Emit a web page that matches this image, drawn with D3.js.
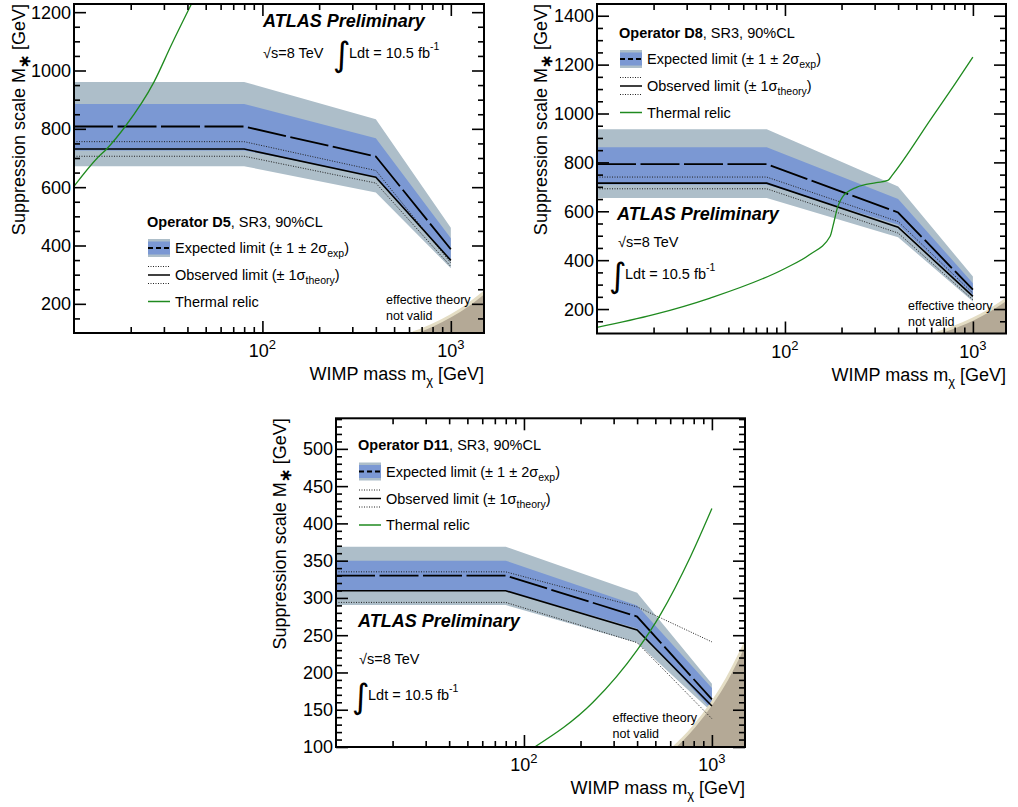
<!DOCTYPE html>
<html><head><meta charset="utf-8">
<script src="https://cdn.jsdelivr.net/npm/d3@7"></script>
<style>
body{margin:0;background:#fff;}
svg{display:block;font-family:"Liberation Sans",Arial,Helvetica,sans-serif;}
</style></head><body>
<svg id="chart" width="1018" height="807"></svg>
<script>
// ================= DATA =================
const massGrid = [10, 80, 400, 1000];
const xMajorTicks = [100, 1000];
const xTickBase = ["10", "10"];
const xTickExp = ["2", "3"];
const xMinorTicks = [20,30,40,50,60,70,80,90,200,300,400,500,600,700,800,900];

// Operator D5
const d5Expected  = [808, 808, 705, 387];
const d5Exp1Up    = [885, 885, 768, 425];
const d5Exp1Down  = [726, 726, 637, 352];
const d5Exp2Up    = [961, 961, 833, 461];
const d5Exp2Down  = [672, 672, 582, 322];
const d5Observed  = [731, 731, 634, 349];
const d5ObsUp     = [756, 756, 657, 340];
const d5ObsDown   = [706, 706, 614, 328];
const d5RelicMass  = [10, 13.3, 14.9, 18.7, 26.6, 33, 42];
const d5RelicScale = [603, 700, 731, 808, 961, 1090, 1228];
const d5YMajor = [200, 400, 600, 800, 1000, 1200];
const d5YLabels = ["200", "400", "600", "800", "1000", "1200"];

// Operator D8
const d8Expected  = [793, 793, 595, 279];
const d8Exp1Up    = [862, 862, 650, 306];
const d8Exp1Down  = [710, 710, 545, 256];
const d8Exp2Up    = [936, 936, 701, 333];
const d8Exp2Down  = [654, 654, 494, 231];
const d8Observed  = [715, 715, 535, 252];
const d8ObsUp     = [740, 740, 558, 265];
const d8ObsDown   = [692, 692, 511, 238];
const d8RelicMass  = [10, 20, 40, 100, 135, 174, 180, 191, 203, 240, 306, 353, 370, 600, 800, 1000];
const d8RelicScale = [125, 177, 245, 366, 422, 498, 539, 619, 660, 698, 717, 726, 745, 979, 1119, 1231];
const d8YMajor = [200, 400, 600, 800, 1000, 1200, 1400];
const d8YLabels = ["200", "400", "600", "800", "1000", "1200", "1400"];

// Operator D11
const d11Expected = [330, 330, 275, 164];
const d11Exp1Up   = [350, 350, 290, 179];
const d11Exp1Down = [310, 310, 259, 150];
const d11Exp2Up   = [368.6, 368.6, 307, 185];
const d11Exp2Down = [290.4, 290.4, 240, 147];
const d11Observed = [309.6, 309.6, 257, 155];
const d11ObsUp    = [335, 335, 288, 241];
const d11ObsDown  = [294, 294, 240, 138];
const d11RelicMass  = [114, 233, 400, 533, 771, 1000];
const d11RelicScale = [100, 160, 230, 278, 356, 420];
const d11YMajor = [100, 150, 200, 250, 300, 350, 400, 450, 500];
const d11YLabels = ["100","150","200","250","300","350","400","450","500"];

// effective theory not valid boundary
const invalidMass  = [630, 700, 800, 1000, 1200, 1500];
const invalidScale = [100, 111, 127, 159, 191, 239];

// ================= STYLE =================
const outerCol = "#adbec9";
const innerCol = "#7b98d3";
const relicCol = "#1f8a1f";
const regionCol = "#b4a996";
const regionEdge = "#e4ddc4";

const panels = [
  { name: "D5", l: 74, r: 484, t: 4, b: 333, yDomain: [100, 1228], yMajor: d5YMajor, yLabels: d5YLabels, yMinorStep: 50,
    exp: d5Expected, e1u: d5Exp1Up, e1d: d5Exp1Down, e2u: d5Exp2Up, e2d: d5Exp2Down,
    obs: d5Observed, ou: d5ObsUp, od: d5ObsDown, rm: d5RelicMass, rs: d5RelicScale,
    legend: { x: 147, y: 226.5 }, atlas: { x: 263, y: 26.5 }, energy: { x: 263, y: 57.5 }, lumi: { x: 335, y: 57.5 },
    eff: { x: 386, y: 303.5 }, yTitleX: 25 },
  { name: "D8", l: 597, r: 1006, t: 4, b: 333.5, yDomain: [100, 1448], yMajor: d8YMajor, yLabels: d8YLabels, yMinorStep: 50,
    exp: d8Expected, e1u: d8Exp1Up, e1d: d8Exp1Down, e2u: d8Exp2Up, e2d: d8Exp2Down,
    obs: d8Observed, ou: d8ObsUp, od: d8ObsDown, rm: d8RelicMass, rs: d8RelicScale,
    legend: { x: 619, y: 37.5 }, atlas: { x: 617, y: 220 }, energy: { x: 618, y: 246.5 }, lumi: { x: 611, y: 278.5 },
    eff: { x: 908, y: 310 }, yTitleX: 547 },
  { name: "D11", l: 336, r: 745, t: 418.3, b: 747, yDomain: [100, 541], yMajor: d11YMajor, yLabels: d11YLabels, yMinorStep: 10,
    exp: d11Expected, e1u: d11Exp1Up, e1d: d11Exp1Down, e2u: d11Exp2Up, e2d: d11Exp2Down,
    obs: d11Observed, ou: d11ObsUp, od: d11ObsDown, rm: d11RelicMass, rs: d11RelicScale,
    legend: { x: 358, y: 450 }, atlas: { x: 358, y: 627 }, energy: { x: 359, y: 663.5 }, lumi: { x: 354, y: 700 },
    eff: { x: 612.5, y: 721.5 }, yTitleX: 286 }
];

const svg = d3.select("#chart");
const defs = svg.append("defs");

function drawPanel(p) {
  const x = d3.scaleLog().domain([10, 1500]).range([p.l, p.r]);
  const y = d3.scaleLinear().domain(p.yDomain).range([p.b, p.t]);
  const g = svg.append("g");

  defs.append("clipPath").attr("id", "clip" + p.name)
    .append("rect").attr("x", p.l).attr("y", p.t).attr("width", p.r - p.l).attr("height", p.b - p.t);
  const plot = g.append("g").attr("clip-path", `url(#clip${p.name})`);

  const band = (lo, hi) => d3.area()
    .x((d, i) => x(massGrid[i])).y0((d, i) => y(lo[i])).y1((d, i) => y(hi[i]))(massGrid);
  const line = (vals) => d3.line().x((d, i) => x(massGrid[i])).y((d, i) => y(vals[i]))(massGrid);

  plot.append("path").attr("d", band(p.e2d, p.e2u)).attr("fill", outerCol);
  plot.append("path").attr("d", band(p.e1d, p.e1u)).attr("fill", innerCol);

  // effective theory not valid region
  const regionArea = d3.area().curve(d3.curveMonotoneX)
    .x((d, i) => x(invalidMass[i])).y0(y(p.yDomain[0]) + 5).y1((d, i) => y(invalidScale[i]));
  plot.append("path").attr("d", regionArea(invalidMass)).attr("fill", regionCol);
  const regionLine = d3.line().curve(d3.curveMonotoneX)
    .x((d, i) => x(invalidMass[i])).y((d, i) => y(invalidScale[i]));
  plot.append("path").attr("d", regionLine(invalidMass)).attr("fill", "none")
    .attr("stroke", regionEdge).attr("stroke-width", 3);

  plot.append("path").attr("d", line(p.ou)).attr("fill", "none").attr("stroke", "#222").attr("stroke-width", 1).attr("stroke-dasharray", "1,1.5");
  plot.append("path").attr("d", line(p.od)).attr("fill", "none").attr("stroke", "#222").attr("stroke-width", 1).attr("stroke-dasharray", "1,1.5");
  plot.append("path").attr("d", line(p.obs)).attr("fill", "none").attr("stroke", "#000").attr("stroke-width", 1.6);
  plot.append("path").attr("d", line(p.exp)).attr("fill", "none").attr("stroke", "#000").attr("stroke-width", 1.8).attr("stroke-dasharray", "39,4.5");

  const relic = d3.line().curve(d3.curveMonotoneX)
    .x((d, i) => x(p.rm[i])).y((d, i) => y(p.rs[i]));
  plot.append("path").attr("d", relic(p.rm)).attr("fill", "none").attr("stroke", relicCol).attr("stroke-width", 1.3);

  // axes ticks (inner, ROOT style)
  const yMinor = d3.range(p.yDomain[0], p.yDomain[1], p.yMinorStep).filter(v => !p.yMajor.includes(v) && v > p.yDomain[0]);
  const tickStyle = sel => { sel.select(".domain").remove(); sel.selectAll("line").attr("stroke", "#000").attr("stroke-width", 1.6); sel.selectAll("text").remove(); };
  g.append("g").attr("transform", `translate(${p.l},0)`).call(d3.axisLeft(y).tickValues(p.yMajor).tickSize(-12).tickFormat("")).call(tickStyle);
  g.append("g").attr("transform", `translate(${p.l},0)`).call(d3.axisLeft(y).tickValues(yMinor).tickSize(-6).tickFormat("")).call(tickStyle);
  g.append("g").attr("transform", `translate(${p.r},0)`).call(d3.axisRight(y).tickValues(p.yMajor).tickSize(-12).tickFormat("")).call(tickStyle);
  g.append("g").attr("transform", `translate(${p.r},0)`).call(d3.axisRight(y).tickValues(yMinor).tickSize(-6).tickFormat("")).call(tickStyle);
  g.append("g").attr("transform", `translate(0,${p.b})`).call(d3.axisBottom(x).tickValues(xMajorTicks).tickSize(-12).tickFormat("")).call(tickStyle);
  g.append("g").attr("transform", `translate(0,${p.b})`).call(d3.axisBottom(x).tickValues(xMinorTicks).tickSize(-6).tickFormat("")).call(tickStyle);
  g.append("g").attr("transform", `translate(0,${p.t})`).call(d3.axisTop(x).tickValues(xMajorTicks).tickSize(-12).tickFormat("")).call(tickStyle);
  g.append("g").attr("transform", `translate(0,${p.t})`).call(d3.axisTop(x).tickValues(xMinorTicks).tickSize(-6).tickFormat("")).call(tickStyle);

  g.append("rect").attr("x", p.l).attr("y", p.t).attr("width", p.r - p.l).attr("height", p.b - p.t)
    .attr("fill", "none").attr("stroke", "#000").attr("stroke-width", 2);

  // tick labels
  p.yMajor.forEach((v, i) => {
    g.append("text").attr("x", p.l - 3).attr("y", y(v)).attr("dy", "0.36em").attr("text-anchor", "end")
      .attr("font-size", 18).text(p.yLabels[i]);
  });
  xMajorTicks.forEach((v, i) => {
    const t = g.append("text").attr("x", x(v)).attr("y", p.b + 24).attr("text-anchor", "middle").attr("font-size", 18);
    t.append("tspan").text(xTickBase[i]);
    t.append("tspan").attr("dy", -8).attr("font-size", 13).text(xTickExp[i]);
  });

  // axis titles
  const xt = g.append("text").attr("x", p.r).attr("y", p.b + 47).attr("text-anchor", "end").attr("font-size", 18);
  xt.append("tspan").text("WIMP mass m");
  xt.append("tspan").attr("dy", 5).attr("font-size", 13).text("χ");
  xt.append("tspan").attr("dy", -5).text(" [GeV]");

  const yt = g.append("text").attr("transform", `translate(${p.yTitleX},${p.t}) rotate(-90)`)
    .attr("text-anchor", "end").attr("font-size", 18);
  yt.append("tspan").text("Suppression scale M");
  yt.append("tspan").attr("dy", 5).attr("font-size", 16).attr("font-weight", "bold").text("∗");
  yt.append("tspan").attr("dy", -5).text(" [GeV]");

  // legend
  const L = p.legend;
  const lt = g.append("text").attr("x", L.x).attr("y", L.y).attr("font-size", 14.5);
  lt.append("tspan").attr("font-weight", "bold").text("Operator " + p.name);
  lt.append("tspan").text(", SR3, 90%CL");
  const gx0 = L.x + 1, gx1 = L.x + 23, tx = L.x + 28;
  const r1 = L.y + 21.5, r2 = L.y + 48.5, r3 = L.y + 75;
  g.append("rect").attr("x", gx0).attr("y", r1 - 9).attr("width", gx1 - gx0).attr("height", 18).attr("fill", outerCol);
  g.append("rect").attr("x", gx0).attr("y", r1 - 6.5).attr("width", gx1 - gx0).attr("height", 13).attr("fill", innerCol);
  g.append("line").attr("x1", gx0).attr("x2", gx1).attr("y1", r1).attr("y2", r1).attr("stroke", "#000").attr("stroke-width", 1.8).attr("stroke-dasharray", "5,3");
  const e1 = g.append("text").attr("x", tx).attr("y", r1 + 5).attr("font-size", 14.5);
  e1.append("tspan").text("Expected limit (± 1 ± 2σ");
  e1.append("tspan").attr("dy", 4).attr("font-size", 10.5).text("exp");
  e1.append("tspan").attr("dy", -4).text(")");

  [-8.5, 8.5].forEach(o => g.append("line").attr("x1", gx0).attr("x2", gx1).attr("y1", r2 + o).attr("y2", r2 + o)
    .attr("stroke", "#222").attr("stroke-width", 1).attr("stroke-dasharray", "1,1.5"));
  g.append("line").attr("x1", gx0).attr("x2", gx1).attr("y1", r2).attr("y2", r2).attr("stroke", "#000").attr("stroke-width", 1.5);
  const e2 = g.append("text").attr("x", tx).attr("y", r2 + 5).attr("font-size", 14.5);
  e2.append("tspan").text("Observed limit (± 1σ");
  e2.append("tspan").attr("dy", 4).attr("font-size", 10.5).text("theory");
  e2.append("tspan").attr("dy", -4).text(")");

  g.append("line").attr("x1", gx0).attr("x2", gx1).attr("y1", r3).attr("y2", r3).attr("stroke", relicCol).attr("stroke-width", 1.5);
  g.append("text").attr("x", tx).attr("y", r3 + 5).attr("font-size", 14.5).text("Thermal relic");

  // ATLAS labels
  g.append("text").attr("x", p.atlas.x).attr("y", p.atlas.y).attr("font-size", 18).attr("font-weight", "bold")
    .attr("font-style", "italic").text("ATLAS Preliminary");
  g.append("text").attr("x", p.energy.x).attr("y", p.energy.y).attr("font-size", 14.5).text("√s=8 TeV");
  const lx = p.lumi.x, ly = p.lumi.y;
  g.append("text").attr("x", lx - 2).attr("y", ly + 8).attr("font-size", 34).attr("font-family", "DejaVu Sans").text("∫");
  const lumiText = g.append("text").attr("x", lx + 14).attr("y", ly).attr("font-size", 14.5);
  lumiText.append("tspan").text("Ldt = 10.5 fb");
  lumiText.append("tspan").attr("dy", -8).attr("font-size", 10.5).text("-1");

  g.append("text").attr("x", p.eff.x).attr("y", p.eff.y).attr("font-size", 12.5).text("effective theory");
  g.append("text").attr("x", p.eff.x).attr("y", p.eff.y + 16).attr("font-size", 12.5).text("not valid");
}

panels.forEach(drawPanel);
</script>
</body></html>
